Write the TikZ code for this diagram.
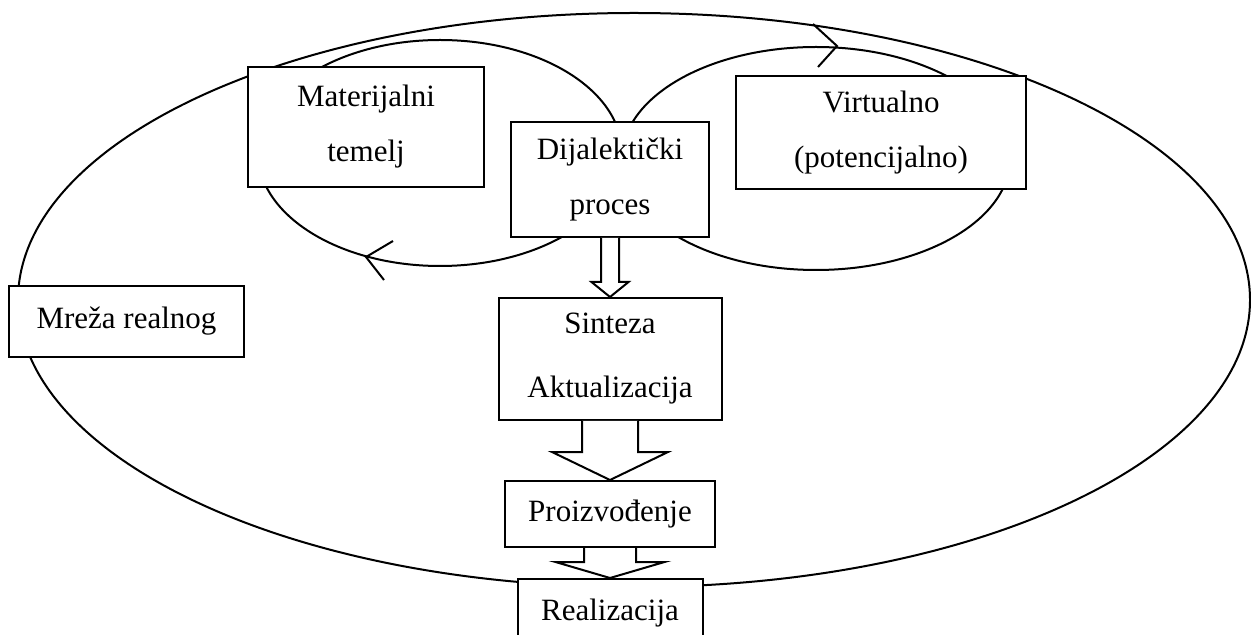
\documentclass[tikz,border=0pt]{standalone}
\usepackage{fontspec}
\setmainfont{Liberation Serif}
\usetikzlibrary{positioning}
\usetikzlibrary{calc}

\newcommand{\blokstrelica}[5]{%
  \draw[fill=white] ($(#1.south)+(-#3,0)$) -- ($(#2.north)+(-#3,#5)$) -- ($(#2.north)+(-#4,#5)$)
    -- (#2.north) -- ($(#2.north)+(#4,#5)$) -- ($(#2.north)+(#3,#5)$) -- ($(#1.south)+(#3,0)$);}

\begin{document}
\begin{tikzpicture}[x=0.5pt,y=-0.5pt,line width=1pt,
  blok/.style={draw,fill=white,align=center,inner sep=2pt,font=\fontsize{15.5}{27.5}\selectfont}]
\useasboundingbox (0,0) rectangle (1251,635);
\clip (0,0) rectangle (1251,635);

% ellipses
\draw (634,300) ellipse [x radius=308pt,y radius=143.5pt];
\draw (440,153) ellipse [x radius=91pt,y radius=56.5pt];
\draw (816,158.5) ellipse [x radius=97pt,y radius=55.75pt];
\draw (813,24) -- (837,46) -- (818,67);
\draw (393,241) -- (366,257) -- (384,280);

\node [blok,minimum width=118pt,minimum height=60pt] (mat) at (366,127) {Materijalni\\temelj};
\node [blok,minimum width=145pt,minimum height=56.5pt] (virt) at (881,132.5) {Virtualno\\(potencijalno)};
\node [blok,minimum width=117.5pt,minimum height=35.5pt] (mreza) at (126.5,321.5) {Mreža realnog};

\node [blok,minimum width=99pt,minimum height=57.5pt] (dij) at (610,179.5) {Dijalektički\\proces};
\node [blok,minimum width=111.5pt,minimum height=61pt,below=29.5pt of dij,
  font=\fontsize{15.5}{32}\selectfont] (sint) {Sinteza\\Aktualizacija};
\node [blok,minimum width=105pt,minimum height=33pt,below=29.5pt of sint] (proiz) {Proizvođenje};
\node [blok,minimum width=92.5pt,minimum height=34pt,below=15pt of proiz] (real) {Realizacija};

\blokstrelica{dij}{sint}{4.5pt}{9.25pt}{7.5pt}
\blokstrelica{sint}{proiz}{14pt}{29pt}{14pt}
\blokstrelica{proiz}{real}{13pt}{27.25pt}{8pt}
\end{tikzpicture}
\end{document}
